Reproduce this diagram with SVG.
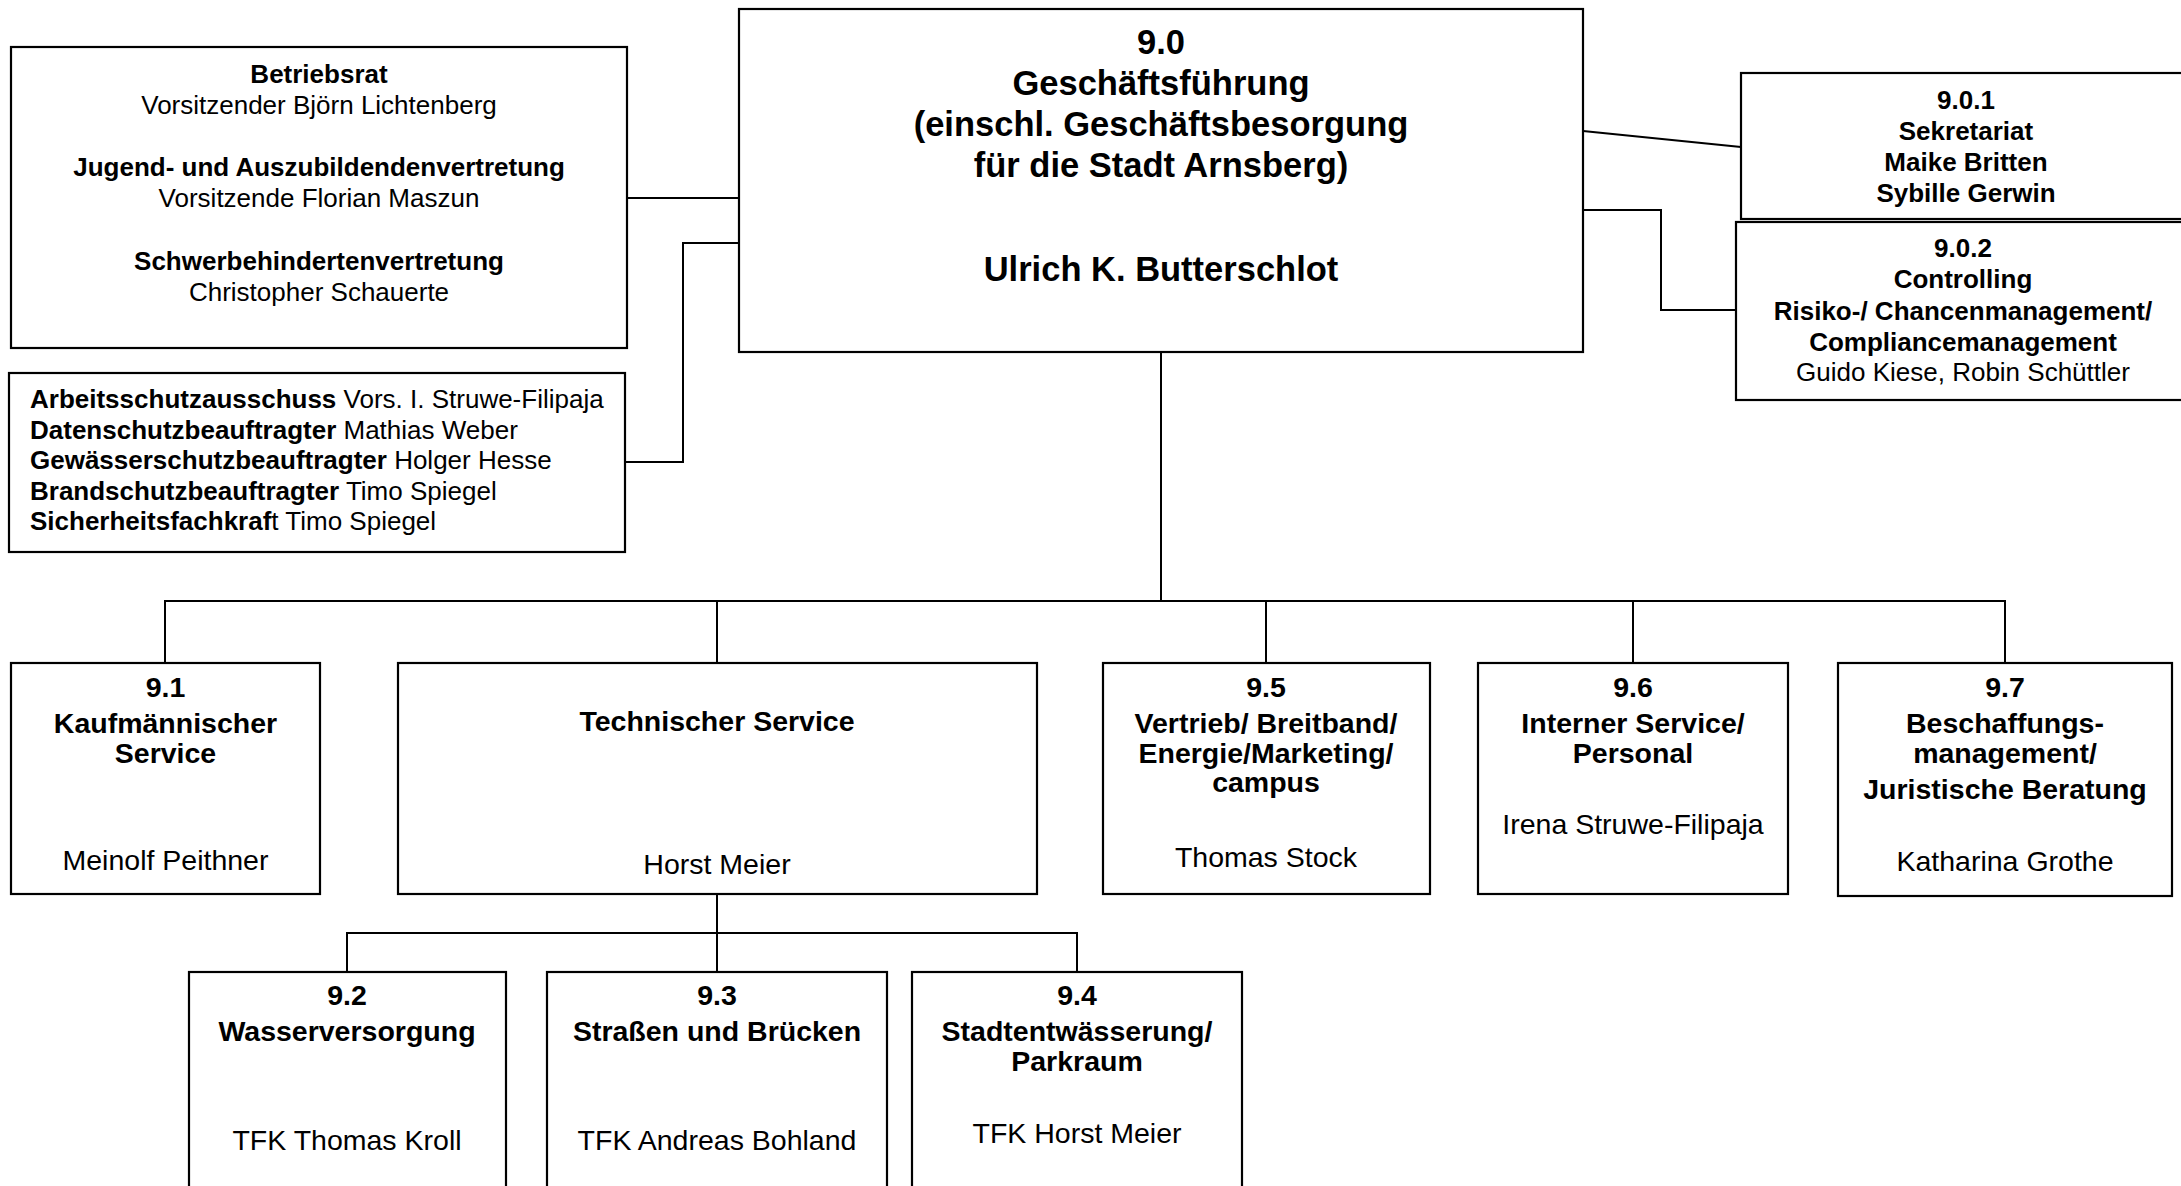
<svg xmlns="http://www.w3.org/2000/svg" width="2181" height="1186" viewBox="0 0 2181 1186">
<style>
.box{fill:#fff;stroke:#000;stroke-width:2.2}
.ln{fill:none;stroke:#000;stroke-width:2}
text{font-family:"Liberation Sans",Arial,sans-serif;fill:#000}
.c{text-anchor:middle}
.b{font-weight:bold}
.f34{font-size:34.5px}
.f26{font-size:26px}
.f28{font-size:28.5px}
</style>
<rect width="2181" height="1186" fill="#fff"/>
<g id="connectors">
<polyline class="ln" points="627,198 739,198"/>
<polyline class="ln" points="739,243 683,243 683,462 625,462"/>
<polyline class="ln" points="1583,131 1741,147"/>
<polyline class="ln" points="1583,210 1661,210 1661,310 1736,310"/>
<polyline class="ln" points="1161,352 1161,601"/>
<polyline class="ln" points="165,663 165,601 2005,601 2005,663"/>
<polyline class="ln" points="717,601 717,663"/>
<polyline class="ln" points="1266,601 1266,663"/>
<polyline class="ln" points="1633,601 1633,663"/>
<polyline class="ln" points="717,894 717,972"/>
<polyline class="ln" points="347,972 347,933 1077,933 1077,972"/>
</g>
<g id="n90">
<rect class="box" x="739" y="9" width="844" height="343"/>
<text class="c b f34" x="1161" y="54">9.0</text>
<text class="c b f34" x="1161" y="95">Geschäftsführung</text>
<text class="c b f34" x="1161" y="136">(einschl. Geschäftsbesorgung</text>
<text class="c b f34" x="1161" y="177">für die Stadt Arnsberg)</text>
<text class="c b f34" x="1161" y="281">Ulrich K. Butterschlot</text>
</g>
<g id="betriebsrat">
<rect class="box" x="11" y="47" width="616" height="301"/>
<text class="c b f26" x="319" y="83">Betriebsrat</text>
<text class="c f26" x="319" y="114">Vorsitzender Björn Lichtenberg</text>
<text class="c b f26" x="319" y="176">Jugend- und Auszubildendenvertretung</text>
<text class="c f26" x="319" y="207">Vorsitzende Florian Maszun</text>
<text class="c b f26" x="319" y="270">Schwerbehindertenvertretung</text>
<text class="c f26" x="319" y="301">Christopher Schauerte</text>
</g>
<g id="beauftragte">
<rect class="box" x="9" y="373" width="616" height="179"/>
<text class="f26" x="30" y="408"><tspan class="b">Arbeitsschutzausschuss</tspan> Vors. I. Struwe-Filipaja</text>
<text class="f26" x="30" y="438.5"><tspan class="b">Datenschutzbeauftragter</tspan> Mathias Weber</text>
<text class="f26" x="30" y="469"><tspan class="b">Gewässerschutzbeauftragter</tspan> Holger Hesse</text>
<text class="f26" x="30" y="499.5"><tspan class="b">Brandschutzbeauftragter</tspan> Timo Spiegel</text>
<text class="f26" x="30" y="530"><tspan class="b">Sicherheitsfachkraf</tspan>t Timo Spiegel</text>
</g>
<g id="n901">
<rect class="box" x="1741" y="73" width="460" height="146"/>
<text class="c b f26" x="1966" y="109">9.0.1</text>
<text class="c b f26" x="1966" y="140">Sekretariat</text>
<text class="c b f26" x="1966" y="171">Maike Britten</text>
<text class="c b f26" x="1966" y="202">Sybille Gerwin</text>
</g>
<g id="n902">
<rect class="box" x="1736" y="222" width="465" height="178"/>
<text class="c b f26" x="1963" y="257">9.0.2</text>
<text class="c b f26" x="1963" y="288">Controlling</text>
<text class="c b f26" x="1963" y="319.5">Risiko-/ Chancenmanagement/</text>
<text class="c b f26" x="1963" y="350.5">Compliancemanagement</text>
<text class="c f26" x="1963" y="381">Guido Kiese, Robin Schüttler</text>
</g>
<g id="n91">
<rect class="box" x="11" y="663" width="309" height="231"/>
<text class="c b f28" x="165.5" y="697">9.1</text>
<text class="c b f28" x="165.5" y="733">Kaufmännischer</text>
<text class="c b f28" x="165.5" y="763">Service</text>
<text class="c f28" x="165.5" y="870">Meinolf Peithner</text>
</g>
<g id="tech">
<rect class="box" x="398" y="663" width="639" height="231"/>
<text class="c b f28" x="717" y="731">Technischer Service</text>
<text class="c f28" x="717" y="874">Horst Meier</text>
</g>
<g id="n95">
<rect class="box" x="1103" y="663" width="327" height="231"/>
<text class="c b f28" x="1266" y="697">9.5</text>
<text class="c b f28" x="1266" y="733">Vertrieb/ Breitband/</text>
<text class="c b f28" x="1266" y="763">Energie/Marketing/</text>
<text class="c b f28" x="1266" y="792">campus</text>
<text class="c f28" x="1266" y="867">Thomas Stock</text>
</g>
<g id="n96">
<rect class="box" x="1478" y="663" width="310" height="231"/>
<text class="c b f28" x="1633" y="697">9.6</text>
<text class="c b f28" x="1633" y="733">Interner Service/</text>
<text class="c b f28" x="1633" y="763">Personal</text>
<text class="c f28" x="1633" y="834">Irena Struwe-Filipaja</text>
</g>
<g id="n97">
<rect class="box" x="1838" y="663" width="334" height="233"/>
<text class="c b f28" x="2005" y="697">9.7</text>
<text class="c b f28" x="2005" y="733">Beschaffungs-</text>
<text class="c b f28" x="2005" y="763">management/</text>
<text class="c b f28" x="2005" y="799">Juristische Beratung</text>
<text class="c f28" x="2005" y="871">Katharina Grothe</text>
</g>
<g id="n92">
<rect class="box" x="189" y="972" width="317" height="230"/>
<text class="c b f28" x="347" y="1005">9.2</text>
<text class="c b f28" x="347" y="1041">Wasserversorgung</text>
<text class="c f28" x="347" y="1150">TFK Thomas Kroll</text>
</g>
<g id="n93">
<rect class="box" x="547" y="972" width="340" height="230"/>
<text class="c b f28" x="717" y="1005">9.3</text>
<text class="c b f28" x="717" y="1041">Straßen und Brücken</text>
<text class="c f28" x="717" y="1150">TFK Andreas Bohland</text>
</g>
<g id="n94">
<rect class="box" x="912" y="972" width="330" height="230"/>
<text class="c b f28" x="1077" y="1005">9.4</text>
<text class="c b f28" x="1077" y="1041">Stadtentwässerung/</text>
<text class="c b f28" x="1077" y="1071">Parkraum</text>
<text class="c f28" x="1077" y="1143">TFK Horst Meier</text>
</g>
</svg>
